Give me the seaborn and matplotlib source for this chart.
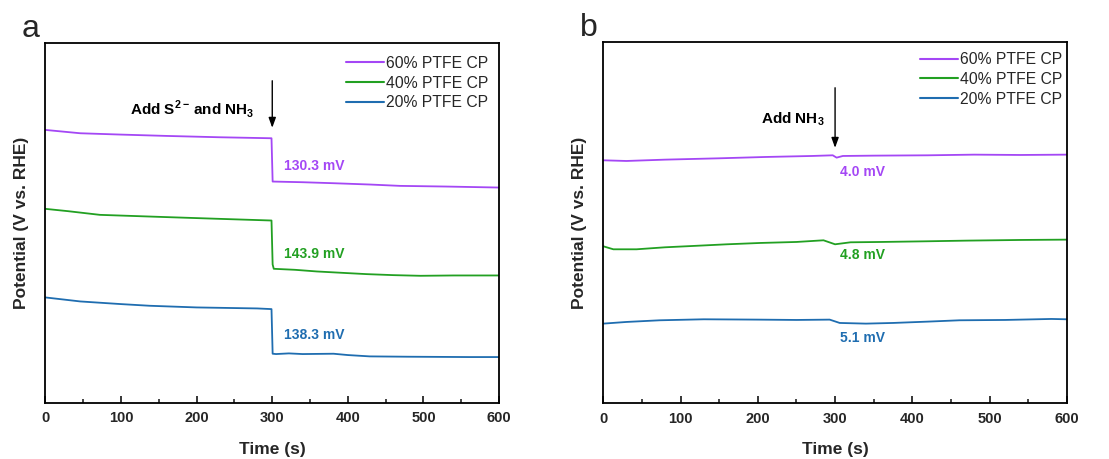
import numpy as np
import pandas as pd
import seaborn as sns
import matplotlib
matplotlib.use("Agg")
import matplotlib.pyplot as plt

sns.set_theme(style="ticks")
plt.rcParams['font.family'] = ['Liberation Sans', 'DejaVu Sans']
plt.rcParams['mathtext.fontset'] = 'custom'
plt.rcParams['mathtext.rm'] = 'Liberation Sans'
plt.rcParams['mathtext.bf'] = 'Liberation Sans:bold'

# ---------------- data (potential in V, arbitrary offset) ----------------
series_names = ["60% PTFE CP", "40% PTFE CP", "20% PTFE CP"]
colors = ["#A447F5", "#22A022", "#1F6DB0"]

# Panel a: add S2- and NH3 at 300 s
a60_t = [0, 46, 100, 160, 230, 299, 300.5, 340, 381, 430, 469, 530, 600]
a60_v = [0.819, 0.809, 0.805, 0.801, 0.797, 0.794, 0.664, 0.662, 0.659, 0.655, 0.651, 0.649, 0.646]
a40_t = [0, 30, 72, 150, 230, 299, 300.5, 302, 330, 359, 400, 425, 460, 496, 540, 600]
a40_v = [0.582, 0.575, 0.564, 0.558, 0.552, 0.547, 0.415, 0.402, 0.399, 0.394, 0.389, 0.386, 0.383, 0.381, 0.382, 0.382]
a20_t = [0, 46, 100, 138, 200, 280, 299, 300.5, 305, 322, 340, 381, 400, 429, 480, 560, 600]
a20_v = [0.316, 0.304, 0.296, 0.291, 0.286, 0.283, 0.281, 0.147, 0.146, 0.148, 0.146, 0.147, 0.143, 0.139, 0.138, 0.137, 0.137]

# Panel b: add NH3 at 300 s
b60_t = [0, 30, 80, 150, 210, 270, 297, 302, 310, 350, 420, 480, 540, 600]
b60_v = [0.729, 0.727, 0.731, 0.735, 0.739, 0.742, 0.744, 0.737, 0.742, 0.743, 0.744, 0.746, 0.745, 0.746]
b40_t = [0, 13, 43, 80, 116, 160, 203, 250, 285, 300, 320, 360, 418, 470, 540, 600]
b40_v = [0.471, 0.462, 0.462, 0.468, 0.472, 0.477, 0.481, 0.484, 0.489, 0.477, 0.483, 0.484, 0.486, 0.488, 0.490, 0.491]
b20_t = [0, 30, 73, 130, 200, 250, 293, 306, 340, 375, 420, 461, 520, 580, 600]
b20_v = [0.239, 0.244, 0.249, 0.252, 0.251, 0.250, 0.251, 0.241, 0.239, 0.241, 0.245, 0.249, 0.250, 0.253, 0.252]

a_drops = ["130.3 mV", "143.9 mV", "138.3 mV"]
b_drops = ["4.0 mV", "4.8 mV", "5.1 mV"]
xticks = [0, 100, 200, 300, 400, 500, 600]

# ---------------- figure ----------------
fig = plt.figure(figsize=(11.09, 4.59), dpi=100)
ax_a = fig.add_axes([0.041, 0.1227, 0.409, 0.7836])
ax_b = fig.add_axes([0.544, 0.1214, 0.418, 0.7864])

panels = [
    (ax_a, [(a60_t, a60_v), (a40_t, a40_v), (a20_t, a20_v)], (1.0, 0.995)),
    (ax_b, [(b60_t, b60_v), (b40_t, b40_v), (b20_t, b20_v)], (1.013, 1.003)),
]

for ax, data, anchor in panels:
    for (t, v), name, c in zip(data, series_names, colors):
        df = pd.DataFrame({"t": t, "v": v})
        sns.lineplot(data=df, x="t", y="v", ax=ax, color=c, label=name,
                     sort=False, estimator=None, linewidth=1.3)
    ax.set_xlim(0, 600)
    ax.set_xticks(xticks)
    ax.set_xticks(np.arange(50, 600, 100), minor=True)
    ax.set_yticks([])
    ax.tick_params(axis='x', which='major', direction='in', length=5, width=1.3,
                   pad=6, labelsize=10.5)
    ax.tick_params(axis='x', which='minor', direction='in', length=3, width=1.2)
    for lab in ax.get_xticklabels():
        lab.set_fontweight('bold')
    for sp in ax.spines.values():
        sp.set_visible(True)
        sp.set_linewidth(1.3)
        sp.set_color('black')
    ax.set_xlabel("Time (s)", fontsize=12.5, fontweight='bold', labelpad=12)
    ax.set_ylabel("Potential (V vs. RHE)", fontsize=12.5, fontweight='bold', labelpad=12)
    leg = ax.legend(loc='upper right', frameon=False, fontsize=11.3,
                    handlelength=2.4, handletextpad=0.1, labelspacing=0.3,
                    borderaxespad=0.3, bbox_to_anchor=anchor)
    for line in leg.get_lines():
        line.set_linewidth(1.5)

ax_a.set_ylim(0, 1.08)
ax_b.set_ylim(0, 1.083)

# panel a annotations
ax_a.text(194, 0.882, r"Add S$^{\mathbf{2-}}\,$and NH$_{\mathbf{3}}$", ha='center', va='center',
          fontsize=11, fontweight='bold', color='black')
ax_a.annotate("", xy=(300, 0.817), xytext=(300, 0.975),
              arrowprops=dict(arrowstyle='-|>,head_width=0.18,head_length=0.5',
                              color='black', lw=1.0))
for txt, y, c in zip(a_drops, [0.711, 0.446, 0.204], colors):
    ax_a.text(316, y, txt, ha='left', va='center', fontsize=10,
              fontweight='bold', color=c)

# panel b annotations
ax_b.text(245, 0.853, r"Add NH$_{\mathbf{3}}$", ha='center', va='center',
          fontsize=11, fontweight='bold', color='black')
ax_b.annotate("", xy=(300, 0.758), xytext=(300, 0.955),
              arrowprops=dict(arrowstyle='-|>,head_width=0.18,head_length=0.5',
                              color='black', lw=1.0))
for txt, y, c in zip(b_drops, [0.694, 0.445, 0.196], colors):
    ax_b.text(336, y, txt, ha='center', va='center', fontsize=10,
              fontweight='bold', color=c)

fig.text(0.0195, 0.919, "a", fontsize=23, ha='left', va='baseline')
fig.text(0.523, 0.921, "b", fontsize=23, ha='left', va='baseline')

fig.savefig("out.png", dpi=100)
